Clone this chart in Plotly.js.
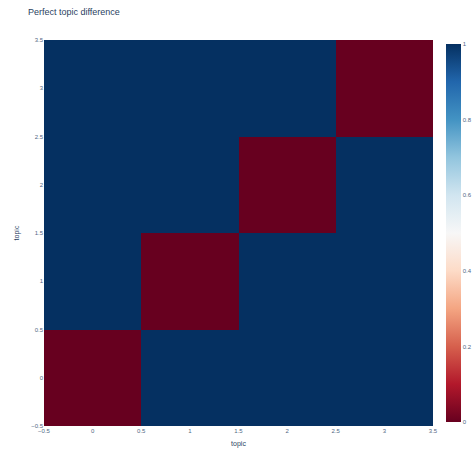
<!DOCTYPE html>
<html>
<head>
<meta charset="utf-8">
<script src="https://cdn.plot.ly/plotly-3.0.1.min.js"></script>
<style>html,body{margin:0;padding:0;background:#fff;}#chart{width:473px;height:449px;}</style>
</head>
<body>
<div id="chart"></div>
<script>
var topics = [0, 1, 2, 3];
var diffRow0 = [0, 1, 1, 1];
var diffRow1 = [1, 0, 1, 1];
var diffRow2 = [1, 1, 0, 1];
var diffRow3 = [1, 1, 1, 0];
var colorbarTicks = [0, 0.2, 0.4, 0.6, 0.8, 1];

var rdbu = [
  [0.0, 'rgb(103,0,31)'], [0.1, 'rgb(178,24,43)'], [0.2, 'rgb(214,96,77)'],
  [0.3, 'rgb(244,165,130)'], [0.4, 'rgb(253,219,199)'], [0.5, 'rgb(247,247,247)'],
  [0.6, 'rgb(209,229,240)'], [0.7, 'rgb(146,197,222)'], [0.8, 'rgb(67,147,195)'],
  [0.9, 'rgb(33,102,172)'], [1.0, 'rgb(5,48,97)']
];

var trace = {
  type: 'heatmap',
  x: topics,
  y: topics,
  z: [diffRow0, diffRow1, diffRow2, diffRow3],
  colorscale: rdbu,
  zmin: 0, zmax: 1,
  colorbar: {
    xref: 'container', x: 0.943, xanchor: 'left', xpad: 0,
    thickness: 15, len: 1, ypad: 4,
    outlinewidth: 0,
    tickvals: colorbarTicks,
    tickfont: {size: 6, color: '#506784'},
    ticklen: 0
  }
};

var layout = {
  width: 473, height: 449,
  margin: {l: 44, r: 40, t: 40, b: 23},
  paper_bgcolor: '#fff', plot_bgcolor: '#E5ECF6',
  font: {family: '"Liberation Sans", Arial, sans-serif', color: '#506784', size: 6},
  title: {text: 'Perfect topic difference', font: {size: 9, color: '#2a3f5f'},
          x: 0.059, xref: 'container', xanchor: 'left', y: 0.973, yref: 'container', yanchor: 'middle'},
  xaxis: {range: [-0.5, 3.5], dtick: 0.5, tick0: 0, showgrid: false, zeroline: false,
          ticks: '', tickfont: {size: 6}, title: {text: 'topic', font: {size: 7, color: '#2a3f5f'}, standoff: 8}},
  yaxis: {range: [-0.5, 3.5], dtick: 0.5, tick0: 0, showgrid: false, zeroline: false,
          ticks: '', tickfont: {size: 6}, title: {text: 'topic', font: {size: 7, color: '#2a3f5f'}, standoff: 10}}
};

Plotly.newPlot('chart', [trace], layout, {displayModeBar: false});
</script>
</body>
</html>
